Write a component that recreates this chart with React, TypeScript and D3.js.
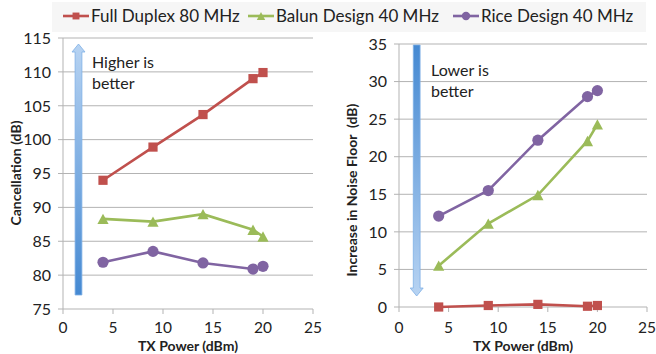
import React from "react";
import { scaleLinear, line } from "d3";

// x values shared by both panels
const txPower = [4, 9, 14, 19, 20];
const xTicks = [0, 5, 10, 15, 20, 25];

// left panel: cancellation (dB)
const cancelTicks = [75, 80, 85, 90, 95, 100, 105, 110, 115];
const cancelFullDuplex = [94, 98.9, 103.7, 109, 109.9];
const cancelBalun = [88.3, 87.9, 89.0, 86.7, 85.7];
const cancelRice = [81.9, 83.5, 81.8, 80.9, 81.3];

// right panel: increase in noise floor (dB)
const noiseTicks = [0, 5, 10, 15, 20, 25, 30, 35];
const noiseFullDuplex = [0, 0.2, 0.35, 0.1, 0.2];
const noiseBalun = [5.5, 11.1, 14.9, 22.1, 24.3];
const noiseRice = [12.1, 15.5, 22.2, 28.0, 28.8];

const seriesNames = ["Full Duplex 80 MHz", "Balun Design 40 MHz", "Rice Design 40 MHz"];
const seriesColors = ["#c0504d", "#9bbb59", "#8064a2"];
const seriesMarkers = ["square", "triangle", "circle"];

const FONT = "Lato, 'Open Sans', sans-serif";
const GRID = "#b3b3b3";

function Marker({ kind, x, y, color, s = 1 }) {
  if (kind === "square") {
    const h = 4.6 * s;
    return <rect x={x - h} y={y - h} width={h * 2} height={h * 2} fill={color} />;
  }
  if (kind === "triangle") {
    const w = 5.6 * s;
    const hh = 5.2 * s;
    return <path d={`M${x},${y - hh}L${x + w},${y + hh}L${x - w},${y + hh}Z`} fill={color} />;
  }
  return <circle cx={x} cy={y} r={5.6 * s} fill={color} />;
}

function Panel({ x0, x1, y0, y1, domain, ticks, series, title, titleX, titleY, arrow, note, noteX, noteY, id }) {
  const x = scaleLinear().domain([0, 25]).range([x0, x1]);
  const y = scaleLinear().domain(domain).range([y1, y0]);
  const path = line<number>()
    .x((_, i) => x(txPower[i]))
    .y((d) => y(d));

  const ax = arrow.x;
  const sw = 3.4;
  const hw = 6.5;
  const hh = 8;
  const arrowPath =
    arrow.dir === "up"
      ? `M${ax},${arrow.y0}L${ax + hw},${arrow.y0 + hh}L${ax + sw},${arrow.y0 + hh}L${ax + sw},${arrow.y1}L${ax - sw},${arrow.y1}L${ax - sw},${arrow.y0 + hh}L${ax - hw},${arrow.y0 + hh}Z`
      : `M${ax},${arrow.y1}L${ax + hw},${arrow.y1 - hh}L${ax + sw},${arrow.y1 - hh}L${ax + sw},${arrow.y0}L${ax - sw},${arrow.y0}L${ax - sw},${arrow.y1 - hh}L${ax - hw},${arrow.y1 - hh}Z`;

  return (
    <g>
      <defs>
        <linearGradient id={id} x1="0" y1="0" x2="0" y2="1">
          <stop offset="0" stopColor={arrow.dir === "up" ? "#b7d3f2" : "#4589d2"} />
          <stop offset="1" stopColor={arrow.dir === "up" ? "#4589d2" : "#b7d3f2"} />
        </linearGradient>
      </defs>
      {ticks.map((t) => (
        <g key={t}>
          <line x1={x0 - 5} x2={x1} y1={y(t)} y2={y(t)} stroke={GRID} strokeWidth={1} />
          <text x={x0 - 12} y={y(t)} dy="0.36em" textAnchor="end" fontSize={16} fill="#222">
            {t}
          </text>
        </g>
      ))}
      <line x1={x0} x2={x0} y1={y0} y2={y1} stroke={GRID} strokeWidth={1} />
      {xTicks.map((t) => (
        <g key={t}>
          <line x1={x(t)} x2={x(t)} y1={y1} y2={y1 + 5} stroke={GRID} strokeWidth={1} />
          <text x={x(t)} y={333} textAnchor="middle" fontSize={15.5} fill="#222">
            {t}
          </text>
        </g>
      ))}
      <text x={(x0 + x1) / 2} y={351} textAnchor="middle" fontSize={14} fontWeight="bold" fill="#222">
        TX Power (dBm)
      </text>
      <text
        transform={`translate(${titleX},${titleY}) rotate(-90)`}
        textAnchor="middle"
        fontSize={14}
        fontWeight="bold"
        fill="#222"
        style={{ whiteSpace: "pre" }}
      >
        {title}
      </text>
      <path d={arrowPath} fill={`url(#${id})`} stroke="#7fb0e6" strokeWidth={0.8} />
      {note.map((s, i) => (
        <text key={i} x={noteX} y={noteY + i * 21} fontSize={16} fill="#222">
          {s}
        </text>
      ))}
      {series.map((vals, k) => (
        <g key={k}>
          <path d={path(vals)} fill="none" stroke={seriesColors[k]} strokeWidth={2.6} />
          {vals.map((v, i) => (
            <Marker key={i} kind={seriesMarkers[k]} x={x(txPower[i])} y={y(v)} color={seriesColors[k]} />
          ))}
        </g>
      ))}
    </g>
  );
}

const legendX = [63, 248, 453];

export default function App() {
  return (
    <div style={{ position: "fixed", left: 0, top: 0 }}>
      <svg width={656} height={354} style={{ display: "block", fontFamily: FONT }}>
        <rect width={656} height={354} fill="#fff" />
        <rect x={52} y={2} width={594} height={30} fill="#f6f6f6" />
        {seriesNames.map((n, k) => (
          <g key={n}>
            <line x1={legendX[k]} x2={legendX[k] + 26} y1={16} y2={16} stroke={seriesColors[k]} strokeWidth={2.6} />
            <Marker kind={seriesMarkers[k]} x={legendX[k] + 13} y={16} color={seriesColors[k]} s={0.75} />
            <text x={legendX[k] + 28} y={22} fontSize={17} fill="#222">
              {n}
            </text>
          </g>
        ))}
        <Panel
          id="gUp"
          x0={63}
          x1={313}
          y0={38}
          y1={309}
          domain={[75, 115]}
          ticks={cancelTicks}
          series={[cancelFullDuplex, cancelBalun, cancelRice]}
          title="Cancellation (dB)"
          titleX={21}
          titleY={173}
          arrow={{ x: 78.5, y0: 44, y1: 295, dir: "up" }}
          note={["Higher is", "better"]}
          noteX={92}
          noteY={68}
        />
        <Panel
          id="gDown"
          x0={399}
          x1={647}
          y0={44}
          y1={307}
          domain={[0, 35]}
          ticks={noiseTicks}
          series={[noiseFullDuplex, noiseBalun, noiseRice]}
          title="Increase in Noise Floor  (dB)"
          titleX={357}
          titleY={190}
          arrow={{ x: 416.7, y0: 45, y1: 296, dir: "down" }}
          note={["Lower is", "better"]}
          noteX={431}
          noteY={76}
        />
      </svg>
    </div>
  );
}
